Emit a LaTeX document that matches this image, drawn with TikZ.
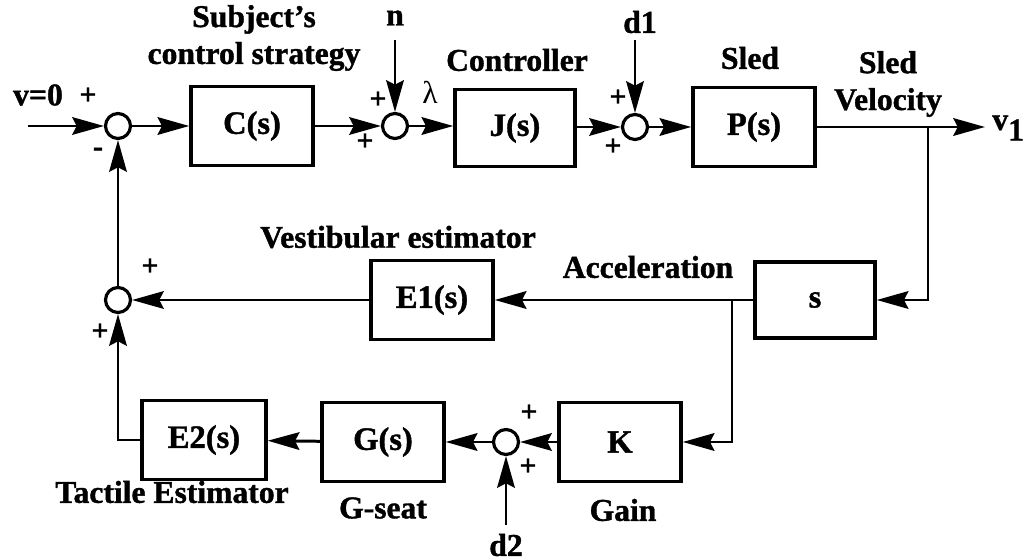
\documentclass[tikz,border=0pt]{standalone}
\usepackage{fontspec}
\setmainfont{Liberation Serif}[BoldFeatures={FakeBold=1.2}]
\usetikzlibrary{arrows.meta}
\tikzset{
  blk/.style={draw, line width=2pt, minimum width=2.44cm, minimum height=1.58cm, inner sep=0pt,
    font=\bfseries\fontsize{18.5}{20}\selectfont},
  sumnode/.style={draw, circle, line width=1.8pt, minimum size=0.5cm, inner sep=0pt},
  sig/.style={line width=1.7pt, -{Stealth[length=18pt,width=10pt,inset=2.5pt]}},
  lbl/.style={font=\bfseries\fontsize{18}{21}\selectfont, align=center, inner sep=0pt},
  sgn/.style={font=\bfseries\fontsize{17}{17}\selectfont, inner sep=0pt}
}
\begin{document}
\begin{tikzpicture}[x=0.02cm, y=-0.02cm]
  \useasboundingbox (0,0) rectangle (1029,560);

  % forward path
  \coordinate (vin) at (28,126);
  \node[sumnode] (sum1) at (118,126) {};
  \node[blk] (cbox) at (252,126) {C(s)};
  \coordinate (ntop) at (395,40);
  \node[sumnode] (sum2) at (395,126) {};
  \node[blk, minimum width=2.4cm, minimum height=1.54cm] (jbox) at (515,128) {J(s)};
  \coordinate (dtop) at (635,40);
  \node[sumnode] (sum3) at (635,127) {};
  \node[blk] (pbox) at (754,127) {P(s)};
  \coordinate (brone) at (928,127);
  \coordinate (vout) at (985,127);

  % feedback path
  \node[blk, minimum width=2.4cm, minimum height=1.52cm] (sbox) at (815,300) {s};
  \coordinate (brtwo) at (732,300);
  \node[blk] (eone) at (432,300) {E1(s)};
  \node[sumnode] (sum4) at (118,300) {};
  \node[blk] (kbox) at (620,442) {K};
  \node[sumnode] (sum5) at (506,442) {};
  \coordinate (dbot) at (506,525);
  \node[blk] (gbox) at (383,442) {G(s)};
  \node[blk, minimum width=2.48cm] (etwo) at (204,440) {E2(s)};

  \draw[sig] (vin) -- (sum1);
  \draw[sig] (sum1) -- (cbox);
  \draw[sig] (cbox) -- (sum2);
  \draw[sig] (ntop) -- (sum2);
  \draw[sig] (sum2) -- (sum2 -| jbox.west);
  \draw[sig] (jbox.east |- sum3) -- (sum3);
  \draw[sig] (dtop) -- (sum3);
  \draw[sig] (sum3) -- (pbox);
  \draw[sig] (pbox) -- (vout);
  \draw[sig] (brone) |- (sbox.east);
  \draw[sig] (sbox) -- (eone);
  \draw[sig] (brtwo) |- (kbox.east);
  \draw[sig] (eone) -- (sum4);
  \draw[sig] (kbox) -- (sum5);
  \draw[sig] (dbot) -- (sum5);
  \draw[sig] (sum5) -- (gbox);
  \draw[sig] (gbox) -- (etwo);
  \draw[sig] (etwo.west) -| (sum4.south);
  \draw[sig] (sum4) -- (sum1);

  % labels
  \node[lbl] at (38,95) {v=0};
  \node[sgn] at (88,96) {+};
  \node[sgn] at (98,152) {-};
  \node[lbl] at (254,38) {Subject’s\\control strategy};
  \node[lbl] at (395,18) {n};
  \node[sgn] at (378,100) {+};
  \node[sgn] at (365,142) {+};
  \node[font=\fontsize{18}{18}\selectfont, inner sep=0pt] at (430,92) {λ};
  \node[lbl] at (517,60) {Controller};
  \node[lbl] at (640,22) {d1};
  \node[sgn] at (618,98) {+};
  \node[sgn] at (613,147) {+};
  \node[lbl] at (750,58) {Sled};
  \node[lbl] at (888,84) {Sled\\Velocity};
  \node[lbl, anchor=west] at (992,128) {v\raisebox{-6pt}{1}};
  \node[lbl] at (398,237) {Vestibular estimator};
  \node[lbl] at (648,267) {Acceleration};
  \node[sgn] at (150,267) {+};
  \node[sgn] at (100,332) {+};
  \node[sgn] at (529,413) {+};
  \node[sgn] at (528,467) {+};
  \node[lbl] at (172,492) {Tactile Estimator};
  \node[lbl] at (383,508) {G-seat};
  \node[lbl] at (623,510) {Gain};
  \node[lbl] at (506,545) {d2};
\end{tikzpicture}
\end{document}
